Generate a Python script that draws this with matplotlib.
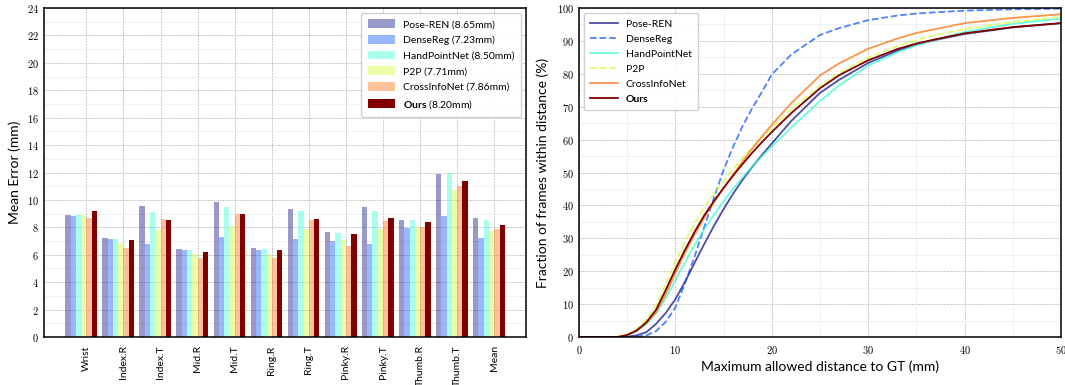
import numpy as np
import matplotlib
matplotlib.use("Agg")
import matplotlib.pyplot as plt
from matplotlib.ticker import MultipleLocator, FuncFormatter

plt.rcParams["font.family"] = ["Lato", "DejaVu Sans"]
plt.rcParams["mathtext.fontset"] = "custom"
plt.rcParams["mathtext.rm"] = "Lato"
plt.rcParams["mathtext.bf"] = "Lato:bold"

methods = ["Pose-REN", "DenseReg", "HandPointNet", "P2P", "CrossInfoNet", "Ours"]
mean_err = [8.65, 7.23, 8.50, 7.71, 7.86, 8.20]
joints = ["Wrist", "Index.R", "Index.T", "Mid.R", "Mid.T", "Ring.R", "Ring.T",
          "Pinky.R", "Pinky.T", "Thumb.R", "Thumb.T", "Mean"]

# per-joint mean error (mm)
pose_ren = [8.91, 7.23, 9.56, 6.43, 9.85, 6.50, 9.34, 7.67, 9.49, 8.55, 11.89, 8.65]
dense_reg = [8.83, 7.16, 6.80, 6.36, 7.30, 6.36, 7.16, 7.01, 6.80, 7.96, 8.83, 7.23]
hand_point_net = [8.90, 7.16, 9.13, 6.36, 9.49, 6.43, 9.20, 7.60, 9.20, 8.55, 11.97, 8.50]
p2p = [8.90, 6.87, 7.82, 6.07, 8.10, 6.07, 7.89, 7.09, 7.89, 7.96, 10.73, 7.71]
cross_info_net = [8.69, 6.50, 8.62, 5.78, 8.98, 5.78, 8.55, 6.65, 8.47, 8.03, 11.02, 7.86]
ours = [9.20, 7.09, 8.55, 6.21, 8.98, 6.36, 8.62, 7.52, 8.69, 8.40, 11.38, 8.20]

# fraction of frames within distance (%)
dist = [0, 4, 5, 6, 7, 8, 9, 10, 11, 12, 13, 14, 15, 16, 17, 18, 19, 20, 22, 25, 27, 30,
        33, 35, 37, 40, 45, 50]
pose_ren_pck = [0, 0, 0.1, 0.5, 1.5, 4.0, 7.3, 11.5, 16.8, 22.6, 28.3, 33.8, 38.9, 43.6, 47.9,
                51.8, 55.4, 58.8, 65.6, 74.2, 78.2, 83.3, 87.0, 88.9, 90.3, 92.1, 94.1, 95.4]
dense_reg_pck = [0, 0, 0, 0.1, 0.5, 1.8, 4.6, 9.0, 16.4, 24.5, 33.5, 42.3, 50.8, 57.9, 64.3,
                 69.7, 74.6, 79.8, 85.8, 91.8, 93.9, 96.3, 97.7, 98.3, 98.7, 99.2, 99.6, 99.8]
hand_point_net_pck = [0, 0, 0.5, 1.8, 4.0, 7.2, 11.8, 17.3, 22.8, 28.0, 32.8, 37.2, 41.3, 45.1,
                      48.6, 51.9, 55.0, 57.9, 63.6, 71.7, 76.5, 82.5, 86.5, 88.7, 90.4, 92.7,
                      95.2, 96.8]
p2p_pck = [0, 0, 0.7, 2.5, 5.3, 9.6, 16.0, 22.8, 29.0, 34.5, 39.3, 43.6, 47.5, 51.1, 54.5,
           57.7, 60.7, 63.5, 69.2, 76.3, 80.2, 84.9, 88.4, 90.3, 91.8, 93.6, 95.8, 97.3]
cross_info_net_pck = [0, 0, 0.6, 2.0, 4.2, 7.6, 13.0, 19.4, 25.6, 31.2, 36.3, 41.0, 45.3, 49.4,
                      53.5, 57.4, 61.0, 64.5, 71.0, 79.5, 83.2, 87.6, 90.7, 92.4, 93.6, 95.4,
                      97.0, 98.1]
ours_pck = [0, 0, 0.6, 2.0, 4.5, 8.3, 14.3, 20.6, 26.5, 32.0, 37.0, 41.3, 45.3, 49.1, 52.7,
            56.1, 59.3, 62.3, 68.0, 75.6, 79.6, 84.1, 87.5, 89.2, 90.5, 92.3, 94.2, 95.4]

errors = [pose_ren, dense_reg, hand_point_net, p2p, cross_info_net, ours]
pcks = [pose_ren_pck, dense_reg_pck, hand_point_net_pck, p2p_pck, cross_info_net_pck, ours_pck]
styles = ["-", "--", "-", "--", "-", "-"]
colors = plt.cm.jet(np.linspace(0, 1, 6))


def cm_numbers(ax):
    fmt = FuncFormatter(lambda v, p: f"${v:g}$")
    ax.xaxis.set_major_formatter(fmt)
    ax.yaxis.set_major_formatter(fmt)
    for lab in ax.get_yticklabels() + ax.get_xticklabels():
        lab.set_math_fontfamily("cm")


def style_grid(ax):
    ax.set_axisbelow(True)
    ax.grid(which="major", color="#c8c8c8", linestyle=(0, (2, 1)), linewidth=0.7)
    ax.grid(which="minor", color="#e6e6e6", linestyle=(0, (2, 1)), linewidth=0.6)
    ax.tick_params(which="both", length=0, labelsize=7.5)
    for s in ax.spines.values():
        s.set_linewidth(1.1)


fig = plt.figure(figsize=(10.65, 3.85), dpi=100)
ax1 = fig.add_axes([44 / 1065, 48 / 385, 482 / 1065, 329 / 385])
ax2 = fig.add_axes([579 / 1065, 48 / 385, 482 / 1065, 329 / 385])

x = np.arange(len(joints))
for i, (name, vals) in enumerate(zip(methods, errors)):
    if name == "Ours":
        label = r"$\bf{Ours}$ (%.2fmm)" % mean_err[i]
    else:
        label = "%s (%.2fmm)" % (name, mean_err[i])
    ax1.bar(x - 4 / 7 + i / 7, vals, width=1 / 7, align="edge", color=colors[i],
            alpha=1.0 if name == "Ours" else 0.4, label=label)

ax1.set_xlim(-1.144, 11.856)
ax1.set_ylim(0, 24)
ax1.set_xticks(x)
ax1.yaxis.set_major_locator(MultipleLocator(2))
ax1.yaxis.set_minor_locator(MultipleLocator(1))
style_grid(ax1)
ax1.grid(which="minor", axis="x", visible=False)
ax1.yaxis.set_major_formatter(FuncFormatter(lambda v, p: f"${v:g}$"))
for lab in ax1.get_yticklabels():
    lab.set_math_fontfamily("cm")
ax1.set_xticklabels(joints, rotation=90, fontsize=7.5)
ax1.tick_params(axis="x", pad=6)
ax1.set_ylabel("Mean Error (mm)", fontsize=10, labelpad=4)
ax1.legend(loc="upper right", fontsize=7.5, handlelength=2.6, handleheight=0.9,
           labelspacing=0.55, borderpad=0.6, framealpha=0.9, edgecolor="#cccccc")

for i, (name, vals) in enumerate(zip(methods, pcks)):
    ax2.plot(dist, vals, linestyle=styles[i], color=colors[i], linewidth=1.3,
             alpha=1.0 if name == "Ours" else 0.7, label=name)

ax2.set_xlim(0, 50)
ax2.set_ylim(0, 100)
ax2.xaxis.set_major_locator(MultipleLocator(10))
ax2.xaxis.set_minor_locator(MultipleLocator(5))
ax2.yaxis.set_major_locator(MultipleLocator(10))
ax2.yaxis.set_minor_locator(MultipleLocator(5))
style_grid(ax2)
cm_numbers(ax2)
ax2.tick_params(axis="x", pad=5)
ax2.set_xlabel("Maximum allowed distance to GT (mm)", fontsize=10, labelpad=3)
ax2.set_ylabel("Fraction of frames within distance (%)", fontsize=10, labelpad=6)
leg = ax2.legend(loc="upper left", fontsize=7.5, handlelength=2.6, labelspacing=0.55,
                 borderpad=0.6, framealpha=0.9, edgecolor="#cccccc")
leg.get_texts()[-1].set_fontweight("bold")

fig.savefig("out.png", dpi=100)
